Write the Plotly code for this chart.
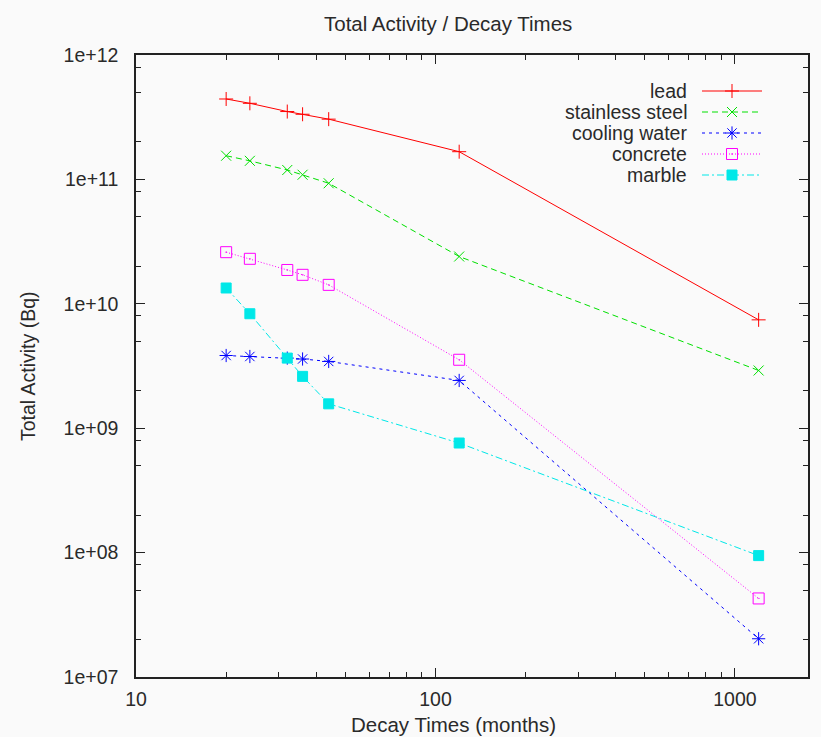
import plotly.graph_objects as go

# ---- data ----
decay_months = [20, 24, 32, 36, 44, 120, 1200]
lead = [4.43e11, 4.09e11, 3.51e11, 3.34e11, 3.05e11, 1.67e11, 7.43e9]
stainless_steel = [1.55e11, 1.41e11, 1.19e11, 1.09e11, 9.31e10, 2.40e10, 2.91e9]
cooling_water = [3.84e9, 3.77e9, 3.66e9, 3.60e9, 3.44e9, 2.42e9, 2.03e7]
concrete = [2.60e10, 2.30e10, 1.87e10, 1.71e10, 1.42e10, 3.55e9, 4.28e7]
marble = [1.34e10, 8.32e9, 3.66e9, 2.61e9, 1.57e9, 7.60e8, 9.46e7]

series_names = ["lead", "stainless steel", "cooling water", "concrete", "marble"]
series_values = [lead, stainless_steel, cooling_water, concrete, marble]

x_tick_vals = [10, 100, 1000]
x_tick_text = ["10", "100", "1000"]
y_tick_vals = [1e7, 1e8, 1e9, 1e10, 1e11, 1e12]
y_tick_text = ["1e+07", "1e+08", "1e+09", "1e+10", "1e+11", "1e+12"]

# ---- styles ----
styles = [
    dict(color="#ff0000", dash="solid", symbol="cross-thin", size=10),
    dict(color="#00e000", dash="6px,4px", symbol="x-thin", size=10),
    dict(color="#0000ff", dash="3px,4px", symbol="asterisk", size=11),
    dict(color="#ff00ff", dash="1px,2px", symbol="square-open-dot", size=11),
    dict(color="#00e8e8", dash="7px,3px,2px,3px", symbol="square", size=10),
]

FONT = "Liberation Sans, Arial, sans-serif"
FS = 19.5
FS_T = 20.5
TXT = "#2a2a2a"
W, H = 821, 737
L, R, T, B = 136, 808, 55, 677


def px(xp):
    return (xp - L) / (R - L)


def py(yp):
    return (B - yp) / (B - T)


fig = go.Figure()
for name, vals, st in zip(series_names, series_values, styles):
    fig.add_trace(go.Scatter(
        x=decay_months, y=vals, name=name, mode="lines+markers",
        line=dict(color=st["color"], width=1, dash=st["dash"]),
        marker=dict(symbol=st["symbol"], size=st["size"], color=st["color"],
                    line=dict(color=st["color"], width=1)),
        showlegend=False, xaxis="x", yaxis="y"))

# gnuplot-style key: text right-aligned, sample line with marker to its right
key_rows = [91, 112, 133, 154, 175]
key_text_right = 689
key_x0, key_xm, key_x1 = 702, 732, 762
annotations = []
for name, st, ky in zip(series_names, styles, key_rows):
    fig.add_trace(go.Scatter(
        x=[key_x0, key_x1], y=[ky, ky], mode="lines",
        line=dict(color=st["color"], width=1, dash=st["dash"]),
        showlegend=False, hoverinfo="skip", xaxis="x2", yaxis="y2"))
    fig.add_trace(go.Scatter(
        x=[key_xm], y=[ky], mode="markers",
        marker=dict(symbol=st["symbol"], size=st["size"], color=st["color"],
                    line=dict(color=st["color"], width=1)),
        showlegend=False, hoverinfo="skip", xaxis="x2", yaxis="y2"))
    annotations.append(dict(x=px(key_text_right), y=py(ky), xref="paper", yref="paper",
                            text=name, showarrow=False, xanchor="right",
                            yanchor="middle", font=dict(family=FONT, size=FS, color=TXT)))

annotations.append(dict(x=px(448), y=py(24), xref="paper", yref="paper",
                        text="Total Activity / Decay Times",
                        showarrow=False, xanchor="center", yanchor="middle",
                        font=dict(family=FONT, size=FS_T, color=TXT)))
annotations.append(dict(x=px(453), y=py(724), xref="paper", yref="paper",
                        text="Decay Times (months)",
                        showarrow=False, xanchor="center", yanchor="middle",
                        font=dict(family=FONT, size=FS_T, color=TXT)))
annotations.append(dict(x=px(28), y=py(366), xref="paper", yref="paper",
                        text="Total Activity (Bq)",
                        showarrow=False, xanchor="center", yanchor="middle", textangle=-90,
                        font=dict(family=FONT, size=FS, color=TXT)))

x_minor = [m * 10 ** d for d in (1, 2) for m in range(2, 10)]
y_minor = [m * 10 ** d for d in range(7, 12) for m in (2, 5, 8)]

axis_common = dict(showgrid=False, zeroline=False, showline=True, linecolor="#222",
                   linewidth=1.5, ticks="inside", mirror="allticks", tickcolor="#222",
                   tickwidth=1.2, ticklen=9,
                   tickfont=dict(family=FONT, size=FS, color=TXT))

fig.update_layout(
    width=W, height=H,
    margin=dict(l=L, r=W - R, t=T, b=H - B, pad=0),
    paper_bgcolor="#fafafa", plot_bgcolor="#fafafa",
    showlegend=False,
    xaxis=dict(type="log", range=[1, 3.244], tickmode="array", tickvals=x_tick_vals,
               ticktext=x_tick_text, ticklabelstandoff=4,
               minor=dict(tickmode="array", tickvals=x_minor, ticks="inside",
                          ticklen=5, tickcolor="#222", tickwidth=1),
               **axis_common),
    yaxis=dict(type="log", range=[7, 12], tickmode="array", tickvals=y_tick_vals,
               ticktext=y_tick_text, ticklabelstandoff=12,
               minor=dict(tickmode="array", tickvals=y_minor, ticks="inside",
                          ticklen=5, tickcolor="#222", tickwidth=1),
               **axis_common),
    xaxis2=dict(overlaying="x", range=[L, R], visible=False, fixedrange=True),
    yaxis2=dict(overlaying="y", range=[B, T], visible=False, fixedrange=True),
    annotations=annotations,
)

fig.write_html("out.html")
